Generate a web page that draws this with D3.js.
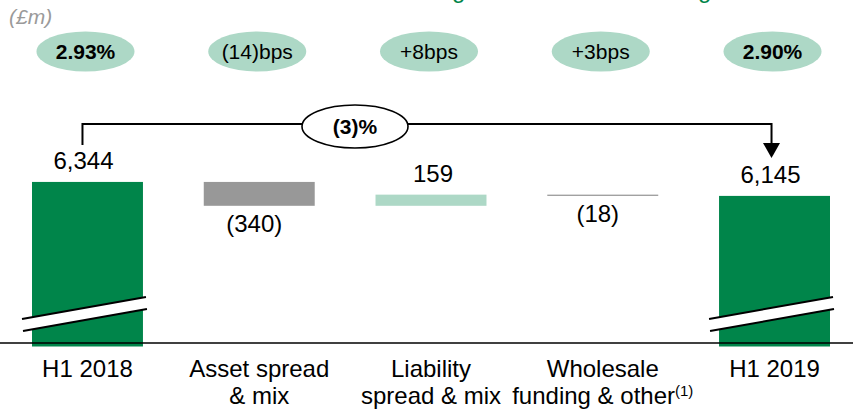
<!DOCTYPE html>
<html>
<head>
<meta charset="utf-8">
<script src="https://cdn.jsdelivr.net/npm/d3@7/dist/d3.min.js"></script>
<style>
  html, body { margin: 0; padding: 0; background: #ffffff; }
  svg { display: block; font-family: "Liberation Sans", Arial, sans-serif; }
</style>
</head>
<body>
<svg id="chart" width="853" height="411"></svg>
<script>
// ---- Data ----
const categories = ["H1 2018", "Asset spread & mix", "Liability spread & mix", "Wholesale funding & other", "H1 2019"];
const categoryLines = [["H1 2018"], ["Asset spread", "& mix"], ["Liability", "spread & mix"], ["Wholesale", "funding & other"], ["H1 2019"]];
const footnoteMarks = ["", "", "", "(1)", ""];
const values = [6344, -340, 159, -18, 6145];
const kinds = ["total", "delta", "delta", "delta", "total"];
const valueLabels = ["6,344", "(340)", "159", "(18)", "6,145"];
const marginLabels = ["2.93%", "(14)bps", "+8bps", "+3bps", "2.90%"];
const marginBold = [true, false, false, false, true];
const changeLabel = "(3)%";
const unitLabel = "(£m)";

// ---- Colours ----
const GREEN = "#00854A";
const GREY = "#989898";
const LIGHT = "#ADD8C6";

// ---- Waterfall table ----
let running = 0;
const rows = categories.map((c, i) => {
  let start, end;
  if (kinds[i] === "total") { start = null; end = values[i]; running = values[i]; }
  else { start = running; end = running + values[i]; running = end; }
  return { cat: c, i, kind: kinds[i], value: values[i], start, end, label: valueLabels[i] };
});

const svg = d3.select("#chart");

const x = d3.scaleBand().domain(categories).range([32, 830]).paddingInner(0.354).paddingOuter(0);
const y = d3.scaleLinear().domain([4000, 6400]).range([346.5, 178]);

// partial title (cut off at top edge of the slide)
svg.append("text")
  .attr("y", -2)
  .attr("font-size", 24)
  .attr("fill", GREEN)
  .selectAll("tspan").data(["g", "g"]).join("tspan")
  .attr("x", (d, i) => i === 0 ? 452 : 698)
  .text(d => d);

// unit label
svg.append("text").attr("x", 9).attr("y", 24)
  .attr("font-size", 21).attr("font-style", "italic").attr("fill", "#9a9a9a")
  .text(unitLabel);

// margin ellipses
const mg = svg.append("g");
const mcx = (i) => x(categories[i]) + x.bandwidth() / 2 - 2;
mg.selectAll("ellipse").data(marginLabels).join("ellipse")
  .attr("cx", (d, i) => mcx(i)).attr("cy", 51.5)
  .attr("rx", 49).attr("ry", 20)
  .attr("fill", LIGHT);
mg.selectAll("text").data(marginLabels).join("text")
  .attr("x", (d, i) => mcx(i)).attr("y", 59)
  .attr("text-anchor", "middle")
  .attr("font-size", 21)
  .attr("font-weight", (d, i) => marginBold[i] ? "bold" : "normal")
  .attr("fill", "#000")
  .text(d => d);

// bars
const bars = svg.append("g");
bars.selectAll("rect").data(rows).join("rect")
  .attr("x", d => x(d.cat))
  .attr("width", x.bandwidth())
  .attr("y", d => d.kind === "total" ? y(d.end) : y(Math.max(d.start, d.end)))
  .attr("height", d => d.kind === "total" ? y.range()[0] - y(d.end)
                                           : Math.max(1, Math.abs(y(d.start) - y(d.end))))
  .attr("fill", d => d.kind === "total" ? GREEN : (d.value < 0 ? GREY : LIGHT));

// break marks on total bars
const totals = rows.filter(d => d.kind === "total");
totals.forEach(d => {
  const x0 = x(d.cat), x1 = x0 + x.bandwidth();
  const g = svg.append("g");
  g.append("path")
    .attr("d", `M${x0 - 10},319 L${x1 + 3},297 L${x1 + 4},309 L${x0 - 9},331 Z`)
    .attr("fill", "#fff");
  g.append("line").attr("x1", x0 - 10).attr("y1", 319).attr("x2", x1 + 3).attr("y2", 297)
    .attr("stroke", "#000").attr("stroke-width", 2);
  g.append("line").attr("x1", x0 - 9).attr("y1", 331).attr("x2", x1 + 4).attr("y2", 309)
    .attr("stroke", "#000").attr("stroke-width", 2);
});

// value labels
svg.append("g").selectAll("text").data(rows).join("text")
  .attr("x", d => x(d.cat) + x.bandwidth() / 2 + (d.kind === "total" ? -4 : (d.value < 0 ? -5 : 2)))
  .attr("y", d => {
    if (d.kind === "total") return y(d.end) - 13;
    if (d.value < 0) return y(Math.min(d.start, d.end)) + 26;
    return y(d.end) - 13;
  })
  .attr("text-anchor", "middle")
  .attr("font-size", 24)
  .attr("fill", "#000")
  .text(d => d.label);

// category axis
const axis = svg.append("g").attr("transform", "translate(0,343)")
  .call(d3.axisBottom(x).tickSize(0).tickSizeOuter(0).tickFormat(() => ""));
axis.select(".domain").remove();
axis.append("line").attr("x1", 0).attr("x2", 853).attr("y1", 0).attr("y2", 0)
  .attr("stroke", "#000").attr("stroke-width", 1.6);
axis.selectAll(".tick text").each(function (d) {
  const i = categories.indexOf(d);
  const t = d3.select(this)
    .attr("font-size", 24).attr("fill", "#000").attr("font-family", "Liberation Sans, Arial, sans-serif")
    .attr("y", 0).attr("dy", null).attr("text-anchor", "middle");
  t.text(null);
  categoryLines[i].forEach((line, k) => {
    t.append("tspan").attr("x", 0).attr("y", 34 + k * 27).text(line);
  });
  if (footnoteMarks[i]) {
    t.append("tspan").attr("font-size", 15).attr("dy", -8).text(footnoteMarks[i]);
  }
});

// change bracket
const bx0 = x(categories[0]) + x.bandwidth() / 2 - 5;
const bx1 = x(categories[4]) + x.bandwidth() / 2 - 3;
const by = 124;
svg.append("path")
  .attr("d", `M${bx0},145 L${bx0},${by} L${bx1},${by} L${bx1},145`)
  .attr("fill", "none").attr("stroke", "#000").attr("stroke-width", 2);
svg.append("path")
  .attr("d", `M${bx1 - 8.5},143 L${bx1 + 8.5},143 L${bx1},158 Z`)
  .attr("fill", "#000");
svg.append("ellipse").attr("cx", 355).attr("cy", 126.5).attr("rx", 53).attr("ry", 21.5)
  .attr("fill", "#fff").attr("stroke", "#000").attr("stroke-width", 1.6);
svg.append("text").attr("x", 355).attr("y", 134).attr("text-anchor", "middle")
  .attr("font-size", 21).attr("font-weight", "bold").text(changeLabel);
</script>
</body>
</html>
